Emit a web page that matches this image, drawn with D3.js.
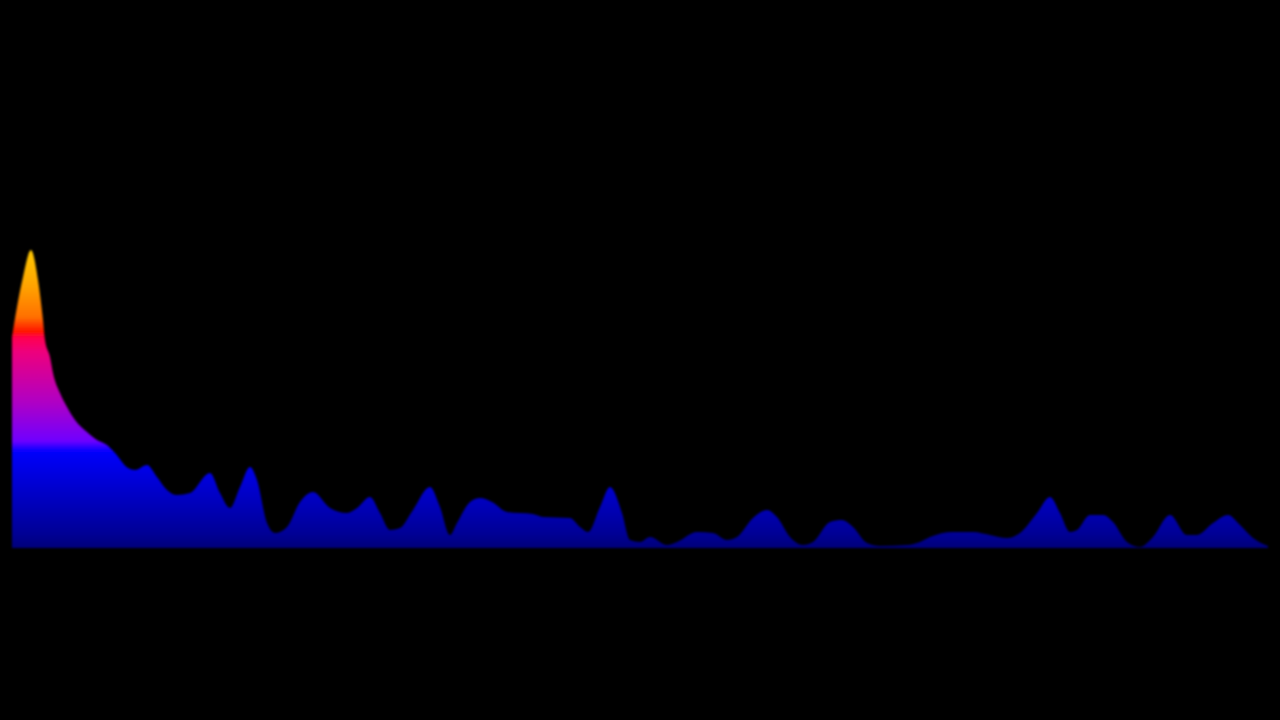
<!DOCTYPE html>
<html>
<head>
<meta charset="utf-8">
<script src="https://cdn.jsdelivr.net/npm/d3@7"></script>
<style>
html,body{margin:0;padding:0;background:#000;overflow:hidden}
svg{display:block}
</style>
</head>
<body>
<svg id="chart" width="1280" height="720"></svg>
<script>
// Spectrum bins (frequency index) and amplitude levels
const bins = [0,5,11,19,26,31,33,38,41,48,55,63,75,85,95,103,116,123,135,145,155,165,178,198,208,218,228,238,245,255,263,275,288,301,318,335,345,358,368,378,388,401,418,428,438,445,458,468,480,495,521,531,558,568,576,588,598,610,618,628,638,655,665,685,701,715,725,741,755,765,778,791,801,818,830,841,855,868,895,908,918,941,961,978,995,1008,1025,1038,1048,1058,1065,1078,1091,1101,1115,1128,1141,1158,1175,1185,1201,1216,1228,1241,1256];
const levels = [211,241,271,298,268,228,208,191,175,155,141,128,116,108,103,95,80,78,83,71,58,53,55,75,55,40,61,81,68,25,15,21,46,56,40,35,40,51,35,18,20,38,61,41,13,25,46,50,46,36,34,31,30,21,16,41,61,35,8,6,11,3,6,16,15,8,11,30,38,31,11,3,6,26,28,21,5,2,3,6,11,16,16,13,10,15,35,51,35,16,18,33,33,26,6,1,11,33,13,13,25,33,23,10,2];

const W = 1280, H = 720;
const svg = d3.select("#chart");
svg.append("rect").attr("width", W).attr("height", H).attr("fill", "#000");

const x = d3.scaleLinear().domain([0, 1256]).range([12, 1268]);
const y = d3.scaleLinear().domain([0, 298]).range([548, 250]);

const data = bins.map((b, i) => ({b, v: levels[i]}));

const defs = svg.append("defs");
const grad = defs.append("linearGradient")
  .attr("id", "spec")
  .attr("gradientUnits", "userSpaceOnUse")
  .attr("x1", 0).attr("x2", 0)
  .attr("y1", y(298)).attr("y2", y(0));
const stops = [
  [0.00, "#ffc800"],
  [0.12, "#ffa400"],
  [0.225, "#ff7000"],
  [0.272, "#ff1800"],
  [0.295, "#ff0050"],
  [0.34, "#ee007c"],
  [0.51, "#b000c4"],
  [0.64, "#7000ff"],
  [0.672, "#1000ff"],
  [0.685, "#0000f8"],
  [0.95, "#000096"],
  [1.00, "#00007a"]
];
grad.selectAll("stop").data(stops).join("stop")
  .attr("offset", d => d[0]).attr("stop-color", d => d[1]);

const blur = defs.append("filter").attr("id", "soft")
  .attr("x", "-2%").attr("y", "-5%").attr("width", "104%").attr("height", "110%");
blur.append("feGaussianBlur").attr("stdDeviation", 0.9);

const area = d3.area()
  .x(d => x(d.b))
  .y0(y(0))
  .y1(d => y(d.v))
  .curve(d3.curveMonotoneX);

svg.append("path")
  .datum(data)
  .attr("d", area)
  .attr("fill", "url(#spec)")
  .attr("filter", "url(#soft)");
</script>
</body>
</html>
